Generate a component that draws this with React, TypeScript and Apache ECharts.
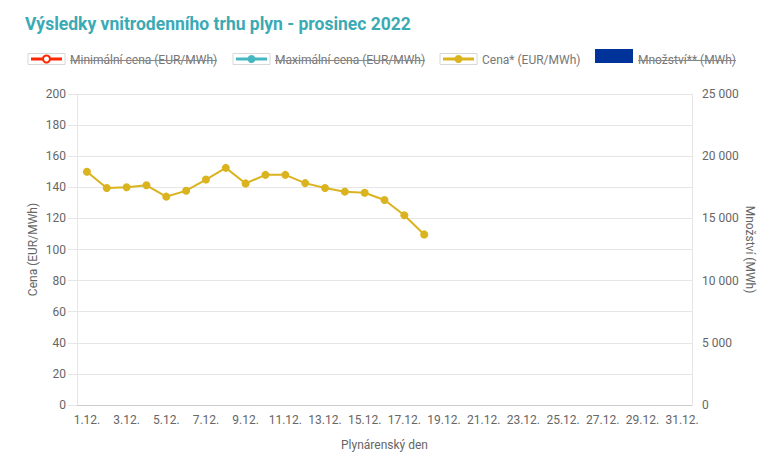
import React, { useEffect, useRef } from "react";
import * as echarts from "echarts";

const days: string[] = Array.from({ length: 31 }, (_, i) => `${i + 1}.12.`);
const cenaValues: (number | null)[] = [
  150, 139.5, 140, 141.3, 134, 137.8, 145, 152.5, 142.5, 148, 148, 142.7,
  139.5, 137.2, 136.5, 131.8, 122, 109.7,
];
const leftTicks = { min: 0, max: 200, interval: 20 };
const rightTicks = { min: 0, max: 25000, interval: 5000 };

const legendItems = [
  { name: "Minimální cena (EUR/MWh)", color: "#ff2600", kind: "hollow", active: false },
  { name: "Maximální cena (EUR/MWh)", color: "#45b7c0", kind: "dot", active: false },
  { name: "Cena* (EUR/MWh)", color: "#dab31f", kind: "dot", active: true },
  { name: "Množství** (MWh)", color: "#003399", kind: "rect", active: false },
];
const legendX = [28, 233, 440, 595];
const legendTextW = [147, 150, 98, 98];

const FONT = "Roboto, 'Noto Sans', sans-serif";

export default function App() {
  const ref = useRef<HTMLDivElement>(null);
  useEffect(() => {
    if (!ref.current) return;
    const chart = echarts.init(ref.current, undefined, { renderer: "svg" });
    const graphics: any[] = [];
    legendItems.forEach((it, i) => {
      const x = legendX[i];
      const cy = 59;
      if (it.kind === "rect") {
        graphics.push({ type: "rect", shape: { x, y: 49, width: 38, height: 14 }, style: { fill: it.color } });
      } else {
        graphics.push({ type: "rect", shape: { x, y: 53.5, width: 37, height: 11 }, style: { fill: "#fff", stroke: "#d8d8d8", lineWidth: 1 } });
        graphics.push({ type: "line", shape: { x1: x + 3, y1: cy, x2: x + 34, y2: cy }, style: { stroke: it.color, lineWidth: 3 } });
        graphics.push({
          type: "circle",
          shape: { cx: x + 18.5, cy, r: it.kind === "hollow" ? 3.5 : 4 },
          style: it.kind === "hollow" ? { fill: "#fff", stroke: it.color, lineWidth: 2 } : { fill: it.color },
        });
      }
      const tx = x + (it.kind === "rect" ? 43 : 42);
      graphics.push({
        type: "text",
        x: tx,
        y: 60,
        style: { text: it.name, fill: "#777", font: `12px ${FONT}`, textVerticalAlign: "middle", textAlign: "left" },
      });
      if (!it.active) {
        graphics.push({ type: "line", shape: { x1: tx, y1: 60.5, x2: tx + legendTextW[i], y2: 60.5 }, style: { stroke: "#888", lineWidth: 1 } });
      }
    });

    chart.setOption({
      animation: false,
      title: {
        text: "Výsledky vnitrodenního trhu plyn - prosinec 2022",
        left: 20,
        top: 10,
        textStyle: { color: "#3aaab5", fontSize: 17.5, fontWeight: "bold", fontFamily: FONT },
      },
      graphic: graphics,
      grid: { left: 77, right: 88, top: 94, bottom: 49 },
      xAxis: {
        type: "category",
        data: days,
        boundaryGap: true,
        name: "Plynárenský den",
        nameLocation: "middle",
        nameGap: 34,
        nameTextStyle: { color: "#666", fontSize: 12, fontFamily: FONT },
        axisLine: { lineStyle: { color: "#cccccc" } },
        axisTick: { show: false },
        axisLabel: { interval: 1, color: "#666", fontSize: 12, fontFamily: FONT, margin: 9 },
        splitLine: { show: false },
      },
      yAxis: [
        {
          type: "value",
          min: leftTicks.min,
          max: leftTicks.max,
          interval: leftTicks.interval,
          name: "Cena (EUR/MWh)",
          nameLocation: "middle",
          nameGap: 38,
          nameMoveOverlap: false,
          nameTextStyle: { color: "#666", fontSize: 12, fontFamily: FONT },
          axisLine: { show: true, lineStyle: { color: "#e6e6e6" } },
          axisTick: { show: true, length: 9, lineStyle: { color: "#e6e6e6" } },
          axisLabel: { color: "#666", fontSize: 12, fontFamily: FONT, margin: 11 },
          splitLine: { lineStyle: { color: "#e6e6e6" } },
        },
        {
          type: "value",
          min: rightTicks.min,
          max: rightTicks.max,
          interval: rightTicks.interval,
          name: "Množství (MWh)",
          nameLocation: "middle",
          nameGap: 52,
          nameMoveOverlap: false,
          nameRotate: -90,
          nameTextStyle: { color: "#666", fontSize: 12, fontFamily: FONT },
          axisLine: { show: true, lineStyle: { color: "#e6e6e6" } },
          axisTick: { show: false },
          axisLabel: {
            color: "#666",
            fontSize: 12,
            fontFamily: FONT,
            margin: 10,
            formatter: (v: number) => String(v).replace(/\B(?=(\d{3})+(?!\d))/g, " "),
          },
          splitLine: { show: false },
        },
      ],
      series: [
        {
          name: "Cena* (EUR/MWh)",
          type: "line",
          data: cenaValues,
          yAxisIndex: 0,
          symbol: "circle",
          symbolSize: 8,
          itemStyle: { color: "#dab31f" },
          lineStyle: { color: "#dab31f", width: 2 },
        },
      ],
    });
    return () => chart.dispose();
  }, []);
  return <div ref={ref} style={{ position: "absolute", left: 0, top: 0, width: 780, height: 456 }} />;
}
